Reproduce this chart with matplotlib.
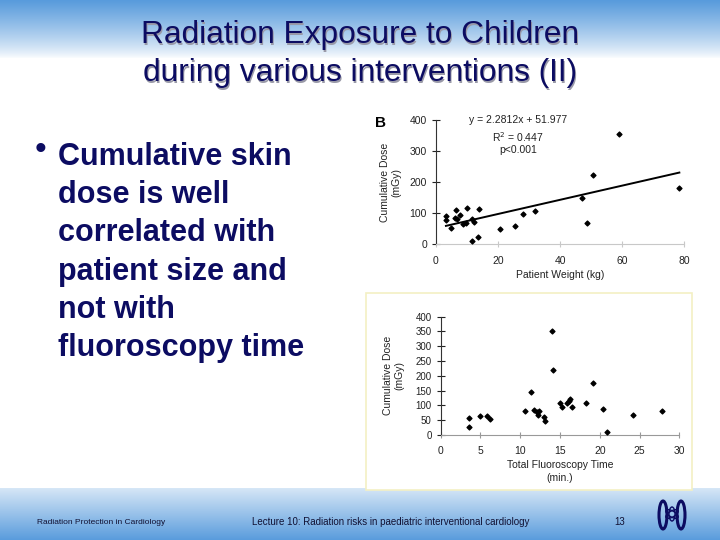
import numpy as np
import matplotlib.pyplot as plt
from matplotlib.patches import Rectangle, Ellipse

plt.rcParams['font.family'] = ['Liberation Sans', 'DejaVu Sans']

# panel B: cumulative dose vs patient weight
weight_kg = [3.2, 3.2, 4.8, 6.4, 6.1, 6.9, 7.7, 8.8, 9.7, 10.1, 11.7, 11.7,
             12.3, 13.6, 14.0, 20.6, 25.4, 27.9, 31.9, 47.2, 48.5, 50.7, 59.1, 78.4]
dose_w = [91, 78, 51, 109, 84, 80, 94, 65, 69, 118, 81, 12,
          73, 25, 113, 49, 58, 98, 107, 148, 70, 223, 355, 180]
fit_slope, fit_icpt = 2.2812, 51.977
fit_x = [3.2, 78.4]

# lower panel: cumulative dose vs fluoroscopy time
fluoro_min = [3.5, 3.6, 4.9, 5.8, 6.2, 10.6, 11.4, 11.7, 12.1, 12.2, 12.4, 13.0,
              13.1, 14.0, 14.1, 15.0, 15.3, 15.9, 16.1, 16.3, 16.5, 18.3, 19.1,
              20.4, 20.9, 24.2, 27.8]
dose_t = [56, 26, 65, 65, 53, 81, 146, 85, 77, 68, 81, 62,
          48, 352, 219, 109, 96, 107, 115, 121, 95, 109, 177,
          88, 11, 68, 80]

navy = '#0c0c62'

fig = plt.figure(figsize=(7.2, 5.4), dpi=100)

# background: blue fade at top and bottom
bg = fig.add_axes([0, 0, 1, 1], zorder=-10)
rows = np.ones((540, 1, 3))
blue = np.array([88, 155, 220]) / 255.0
for r in range(540):
    if r < 58:
        t = (1 - r / 58.0) ** 0.8
        rows[r, 0] = blue * t + (1 - t)
    elif r >= 488:
        t = 0.25 + 0.75 * (r - 488) / 52.0
        rows[r, 0] = blue * t + (1 - t)
bg.imshow(rows, aspect='auto', extent=[0, 720, 540, 0])
bg.set_xlim(0, 720)
bg.set_ylim(540, 0)
bg.axis('off')

# white box behind lower chart
bg.add_patch(Rectangle((366, 293), 326, 197, facecolor='white',
                       edgecolor='#f3f0c4', linewidth=1.2))

# title with shadow
for dx, dy, col in [(1.5, 1.5, '#9a9aa8'), (0, 0, navy)]:
    bg.text(360 + dx, 35 + dy, 'Radiation Exposure to Children', ha='center',
            va='center', fontsize=22.8, color=col)
    bg.text(360 + dx, 73 + dy, 'during various interventions (II)', ha='center',
            va='center', fontsize=22.8, color=col)

# bullet text
bg.text(35, 150, '•', fontsize=24, color=navy, ha='left', va='center')
lines = ['Cumulative skin', 'dose is well', 'correlated with',
         'patient size and', 'not with', 'fluoroscopy time']
for i, ln in enumerate(lines):
    bg.text(58, 157 + i * 38.2, ln, fontsize=22, fontweight='bold', color=navy,
            ha='left', va='center')

# footer
bg.text(37, 522, 'Radiation Protection in Cardiology', fontsize=6, color='#111133',
        ha='left', va='center')
bg.text(391, 522, 'Lecture 10: Radiation risks in paediatric interventional cardiology',
        fontsize=7, color='#111133', ha='center', va='center')
bg.text(620, 522, '13', fontsize=7, color='#111133', ha='center', va='center')
# simple emblem
for ang in (30, 90, 150):
    bg.add_patch(Ellipse((672, 514), 14, 6, angle=ang, fill=False,
                         edgecolor=navy, linewidth=1.0))
bg.add_patch(Ellipse((663, 515), 8, 28, fill=False, edgecolor=navy, linewidth=2.2))
bg.add_patch(Ellipse((681, 515), 8, 28, fill=False, edgecolor=navy, linewidth=2.2))

# panel B
ax1 = fig.add_axes([436 / 720, 1 - 244.3 / 540, 248.3 / 720, 124.3 / 540])
ax1.scatter(weight_kg, dose_w, marker='D', s=6, color='black', clip_on=False, zorder=3)
fx = np.array(fit_x)
ax1.plot(fx, fit_slope * fx + fit_icpt, color='black', linewidth=1.4)
ax1.set_xlim(0, 80)
ax1.set_ylim(0, 400)
ax1.set_xticks([0, 20, 40, 60, 80])
ax1.set_yticks([0, 100, 200, 300, 400])
ax1.patch.set_alpha(0)
for s in ('top', 'right'):
    ax1.spines[s].set_visible(False)
ax1.spines['bottom'].set_color('#c8c8c8')
ax1.spines['left'].set_color('#333333')
ax1.tick_params(axis='y', direction='inout', length=6, labelsize=7.5, colors='#222222')
ax1.tick_params(axis='x', direction='inout', length=5, labelsize=7.5, colors='#222222',
                pad=6)
ax1.tick_params(axis='x', color='#c8c8c8')
ax1.set_xlabel('Patient Weight (kg)', fontsize=7.5, color='#222222', labelpad=3)
ax1.set_ylabel('Cumulative Dose\n(mGy)', fontsize=7.5, color='#222222', labelpad=6)
ax1.text(0.33, 1.0, 'y = 2.2812x + 51.977', transform=ax1.transAxes, ha='center',
         va='center', fontsize=7.5, color='#222222')
ax1.text(0.33, 0.865, 'R$^2$ = 0.447', transform=ax1.transAxes, ha='center',
         va='center', fontsize=7.5, color='#222222')
ax1.text(0.33, 0.755, 'p<0.001', transform=ax1.transAxes, ha='center',
         va='center', fontsize=7.5, color='#222222')
bg.text(381, 123, 'B', fontsize=11, fontweight='bold', ha='center', va='center')

# lower panel
ax2 = fig.add_axes([440.7 / 720, 1 - 435 / 540, 238.6 / 720, 118.3 / 540])
ax2.scatter(fluoro_min, dose_t, marker='D', s=6, color='black', clip_on=False, zorder=3)
ax2.set_xlim(0, 30)
ax2.set_ylim(0, 400)
ax2.set_xticks([0, 5, 10, 15, 20, 25, 30])
ax2.set_yticks(range(0, 401, 50))
ax2.patch.set_alpha(0)
for s in ('top', 'right'):
    ax2.spines[s].set_visible(False)
ax2.spines['bottom'].set_color('#999999')
ax2.spines['left'].set_color('#333333')
ax2.tick_params(axis='y', direction='inout', length=6, labelsize=7, colors='#222222')
ax2.tick_params(axis='x', direction='inout', length=4, labelsize=7.5, colors='#222222',
                pad=6)
ax2.tick_params(axis='x', color='#999999')
ax2.set_xlabel('Total Fluoroscopy Time\n(min.)', fontsize=7.5, color='#222222',
               labelpad=3, linespacing=1.3)
ax2.set_ylabel('Cumulative Dose\n(mGy)', fontsize=7.5, color='#222222', labelpad=8)

fig.savefig('out.png', dpi=100)
